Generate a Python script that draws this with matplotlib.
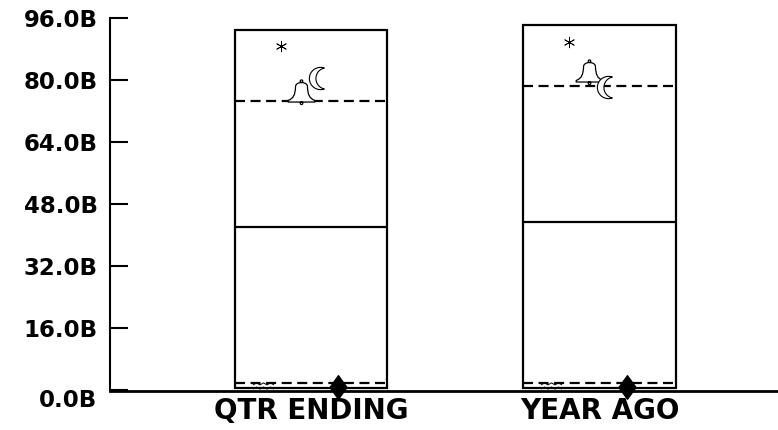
import numpy as np
import matplotlib
matplotlib.use("Agg")
import matplotlib.pyplot as plt
import matplotlib.transforms as mtransforms
from matplotlib.path import Path
from matplotlib.ticker import FuncFormatter

# --- data (values in billions) ---
categories = ["QTR ENDING", "YEAR AGO"]
box_low = [0.5, 0.5]
box_high = [92.9, 94.2]
median = [42.1, 43.4]
upper_dash = [74.6, 78.5]
lower_dash = [1.8, 1.8]
asterisk_vals = [88.8, 89.8]
moon_vals = [80.5, 78.2]
bell_vals = [76.4, 81.5]
wavy_vals = [1.0, 1.1]
diamond_vals = [0.8, 0.8]
yticks = [0, 16, 32, 48, 64, 80, 96]


# --- marker shapes ---
def bell_path():
    body = Path(
        [(-0.38, 0.5), (-0.38, 0.85), (0.38, 0.85), (0.38, 0.5),
         (0.4, 0.0), (0.5, -0.25), (0.85, -0.38),
         (0.85, -0.48), (-0.85, -0.48), (-0.85, -0.38),
         (-0.5, -0.25), (-0.4, 0.0), (-0.38, 0.5), (-0.38, 0.5)],
        [Path.MOVETO, Path.CURVE4, Path.CURVE4, Path.CURVE4,
         Path.CURVE4, Path.CURVE4, Path.CURVE4,
         Path.LINETO, Path.LINETO, Path.LINETO,
         Path.CURVE4, Path.CURVE4, Path.CURVE4, Path.CLOSEPOLY])
    knob = Path.circle((0, 0.85), 0.08)
    clapper = Path.circle((0, -0.56), 0.08)
    return Path.make_compound_path(body, knob, clapper)


def moon_path():
    t1 = np.radians(np.linspace(70, 290, 40))
    outer = np.column_stack([np.cos(t1), np.sin(t1)])
    ex, ey = outer[0]
    cx = 0.55
    r = np.hypot(ex - cx, ey)
    a = np.degrees(np.arctan2(ey, ex - cx))
    t2 = np.radians(np.linspace(360 - a, a, 40))
    inner = np.column_stack([cx + r * np.cos(t2), r * np.sin(t2)])
    verts = np.vstack([outer, inner, outer[:1]])
    codes = [Path.MOVETO] + [Path.LINETO] * (len(verts) - 2) + [Path.CLOSEPOLY]
    return Path(verts, codes)


def wavy_path():
    xs = np.linspace(-1, 1, 7)
    top = np.column_stack([xs, np.where(np.arange(7) % 2 == 0, 0.15, 0.35)])
    bot = np.column_stack([xs, np.where(np.arange(7) % 2 == 0, -0.25, -0.05)])
    verts = np.vstack([top, bot])
    codes = ([Path.MOVETO] + [Path.LINETO] * 6) * 2
    return Path(verts, codes)


diamond = Path([(0, 1), (0.72, 0), (0, -1), (-0.72, 0), (0, 1)],
               [Path.MOVETO, Path.LINETO, Path.LINETO, Path.LINETO, Path.CLOSEPOLY])

plt.rcParams["font.family"] = ["DejaVu Sans"]
plt.rcParams["font.weight"] = "bold"

fig = plt.figure(figsize=(7.78, 4.30), dpi=100)
ax = fig.add_axes([110 / 778, 40 / 430, 668 / 778, 372 / 430])

x = np.arange(len(categories))
half = 0.264
lw = 1.6

ax.bar(x, np.array(box_high) - np.array(box_low), bottom=box_low, width=2 * half,
       fill=False, edgecolor="black", linewidth=lw, zorder=2)
ax.hlines(median, x - half, x + half, color="black", linewidth=lw, zorder=2)
ax.hlines(upper_dash, x - half, x + half, color="black", linewidth=lw,
          linestyles=(0, (4.5, 2.5)), zorder=2)
ax.hlines(lower_dash, x - half, x + half, color="black", linewidth=lw,
          linestyles=(0, (4.5, 2.5)), zorder=2)

ax.plot(x - 0.105, asterisk_vals, linestyle="none", marker=(6, 2, 0),
        markersize=8, markeredgewidth=0.6, color="black", zorder=4)
ax.plot(x - 0.035, bell_vals, linestyle="none", marker=bell_path(),
        markersize=21, markerfacecolor="white", markeredgecolor="black",
        markeredgewidth=0.9, zorder=4)
ax.plot(x + 0.03, moon_vals, linestyle="none", marker=moon_path(),
        markersize=16, markerfacecolor="white", markeredgecolor="black",
        markeredgewidth=0.8, zorder=4)
ax.plot(x - 0.168, wavy_vals, linestyle="none", marker=wavy_path(),
        markersize=15, markerfacecolor="none", markeredgecolor="black",
        markeredgewidth=0.7, zorder=4, clip_on=False)
ax.plot(x + 0.095, diamond_vals, linestyle="none", marker=diamond,
        markersize=17, color="black", zorder=5, clip_on=False)

ax.set_xlim(-0.697, 1.619)
ax.set_ylim(0, 96)
ax.set_yticks(yticks)
ax.yaxis.set_major_formatter(FuncFormatter(lambda v, p: f"{v:.1f}B"))
ax.set_xticks(x)
ax.set_xticklabels(categories)

ax.tick_params(axis="y", direction="in", length=13, width=1.5, pad=9,
               labelsize=16.5)
ax.tick_params(axis="x", length=0, pad=4, labelsize=20)

for s in ["top", "right"]:
    ax.spines[s].set_visible(False)
ax.spines["left"].set_linewidth(1.5)
ax.spines["bottom"].set_linewidth(2)
ax.spines["bottom"].set_position(("outward", 1))

# nudge the bottom tick label down a little, as in the original
lab0 = ax.yaxis.get_major_ticks()[0].label1
lab0.set_transform(lab0.get_transform() +
                   mtransforms.ScaledTranslation(0, -8 / 100, fig.dpi_scale_trans))

fig.savefig("out.png", dpi=100)
